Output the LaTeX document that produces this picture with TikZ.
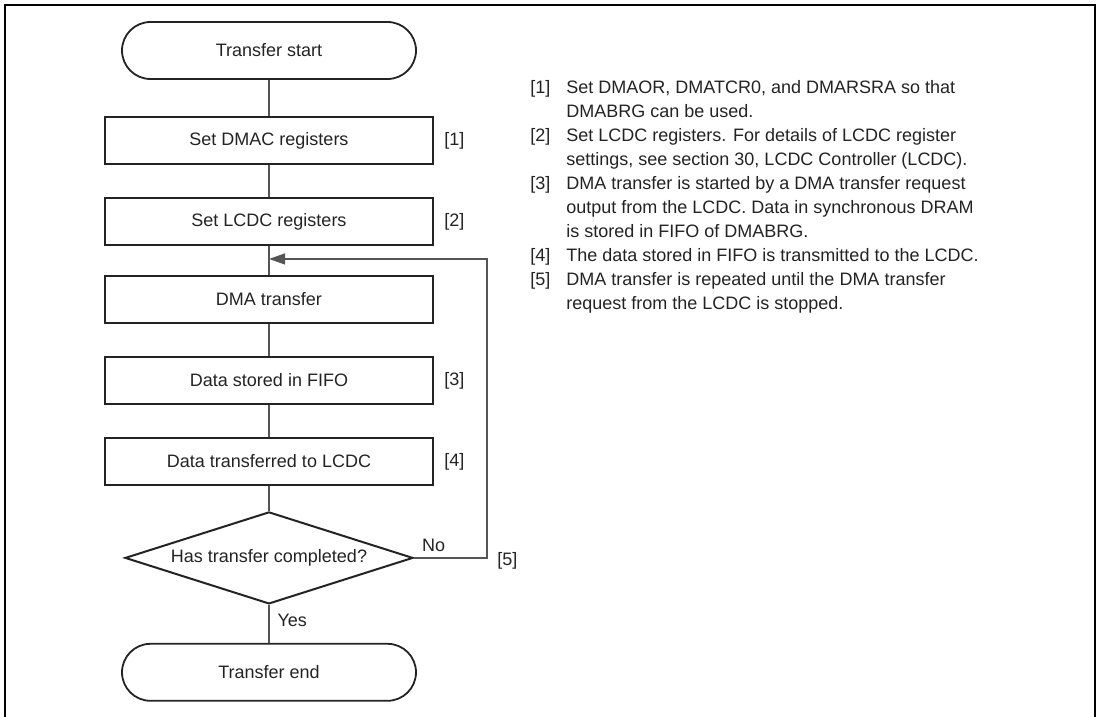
\documentclass[tikz,border=0pt]{standalone}
\usepackage{fontspec}
\setmainfont{Liberation Sans}
\usetikzlibrary{positioning,arrows.meta,shapes.geometric,calc}
\definecolor{inkgray}{RGB}{35,35,35}
\definecolor{wiregray}{RGB}{85,85,85}

\begin{document}
\begin{tikzpicture}[
      node distance=16pt,
      font=\fontsize{9}{12}\selectfont, text=inkgray,
      term/.style={rectangle, rounded corners=14.25pt, draw=inkgray,
                   line width=0.9pt, minimum width=147pt,
                   minimum height=28.5pt, inner sep=0pt},
      proc/.style={rectangle, draw=inkgray, line width=1pt,
                   minimum width=164pt, minimum height=23.5pt, inner sep=0pt},
      test/.style={diamond, draw=inkgray, line width=1pt, aspect=3.13,
                   minimum width=144pt, minimum height=46pt, inner sep=0pt},
      tag/.style={inner sep=0pt},
      wire/.style={draw=wiregray, line width=0.6pt},
      arr/.style={wire, -{Triangle[length=8pt,width=5.5pt]}},
      lbl/.style={inner sep=2pt}
    ]
    \useasboundingbox (0,0) rectangle (548.5pt,-358.5pt);
    % open frame round the figure
    \draw[line width=1pt, black] (2.5pt,-358.5pt) |- (547.5pt,-2.75pt)
         -- (547.5pt,-358.5pt);
    % flow down the centre
    \node[term] (start) at (134.5pt,-25.25pt) {Transfer start};
    \node[proc, below=18pt of start]  (dmac) {Set DMAC registers};
    \node[proc, below=of dmac]        (lcdc) {Set LCDC registers};
    \node[proc, below=14.5pt of lcdc] (dma)  {DMA transfer};
    \node[proc, below=of dma]         (fifo) {Data stored in FIFO};
    \node[proc, below=of fifo]        (send) {Data transferred to LCDC};
    \node[test, below=12.5pt of send] (done) {Has transfer completed?};
    \node[term, below=19pt of done]   (stop) {Transfer end};
    % step numbers
    \node[tag, right=5pt of dmac] {[1]};
    \node[tag, right=5pt of lcdc] {[2]};
    \node[tag, right=5pt of fifo] {[3]};
    \node[tag, right=5pt of send] {[4]};
    \coordinate (join) at ($(lcdc.south)!0.45!(dma.north)$);
    \coordinate (back) at ([xshift=26.5pt]lcdc.east |- join);
    \coordinate (turn) at (back |- done.east);
    \node[tag, right=5pt of turn, yshift=-1.5pt] {[5]};
    \draw[wire] (start) -- (dmac);
    \draw[wire] (dmac) -- (lcdc);
    \draw[wire] (lcdc) -- (dma);
    \draw[wire] (dma) -- (fifo);
    \draw[wire] (fifo) -- (send);
    \draw[wire] (send) -- (done);
    \draw[wire] (done) -- node[lbl, right, pos=0.4, xshift=2pt]{Yes} (stop);
    % loop back while not done
    \draw[arr] (done.east) -- node[lbl, above, pos=0.27, yshift=1pt]{No} (turn)
               -- (back) -- (join);
    % notes
    \node[tag, anchor=base west] (notes) at (265pt,-46.7pt) {%
      \begin{tabular}[t]{@{}p{18pt}@{}l@{}}
      {[1]} & Set DMAOR, DMATCR0, and DMARSRA so that\\
            & DMABRG can be used.\\
      {[2]} & Set LCDC registers. For details of LCDC register\\
            & settings, see section 30, LCDC Controller (LCDC).\\
      {[3]} & DMA transfer is started by a DMA transfer request\\
            & output from the LCDC. Data in synchronous DRAM\\
            & is stored in FIFO of DMABRG.\\
      {[4]} & The data stored in FIFO is transmitted to the LCDC.\\
      {[5]} & DMA transfer is repeated until the DMA transfer\\
            & request from the LCDC is stopped.
      \end{tabular}};
  \end{tikzpicture}
\end{document}
